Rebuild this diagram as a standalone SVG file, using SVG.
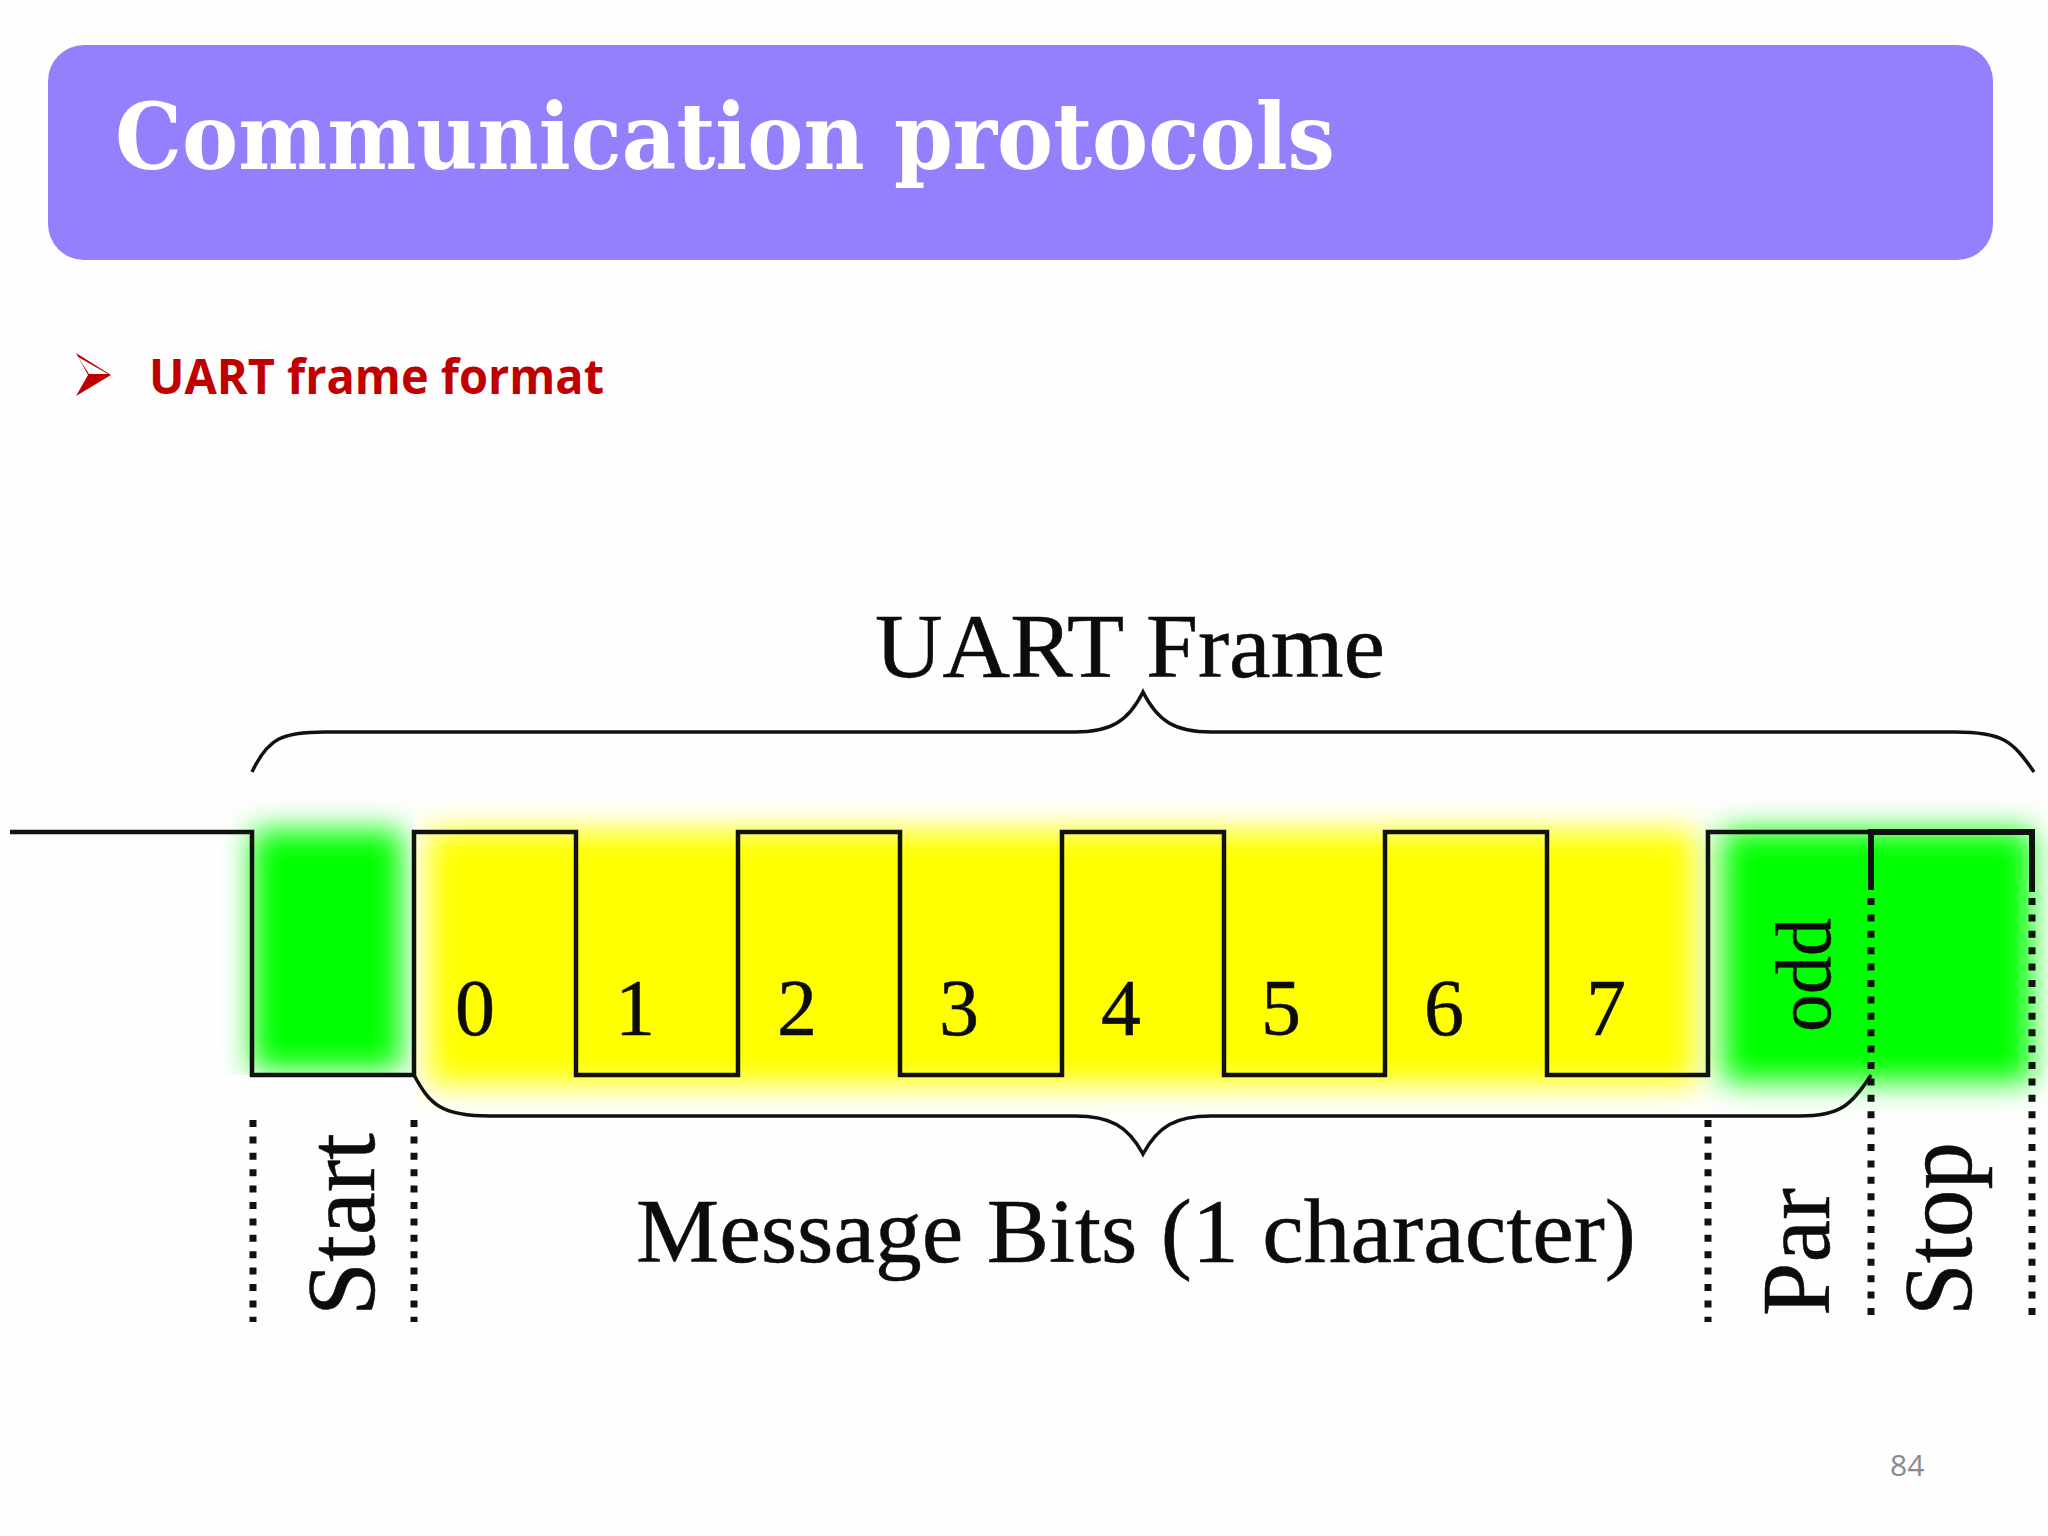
<svg xmlns="http://www.w3.org/2000/svg" width="2048" height="1536" viewBox="0 0 2048 1536">
<defs>
<filter id="glow" filterUnits="userSpaceOnUse" x="150" y="750" width="1950" height="420"><feGaussianBlur stdDeviation="15"/></filter>
<clipPath id="cs"><rect x="200" y="760" width="214" height="315"/></clipPath>
<clipPath id="cy"><rect x="416" y="760" width="1400" height="380"/></clipPath>
</defs>
<style>
.s{font-family:"Liberation Serif",serif;fill:#0c0c0c;stroke:#0c0c0c;stroke-width:.5}
.w{fill:none;stroke:#111;stroke-width:4.5;stroke-linejoin:miter}
.b{fill:none;stroke:#111;stroke-width:3.5}
.d{fill:none;stroke:#111;stroke-width:7;stroke-dasharray:7 9.4}
</style>
<rect width="2048" height="1536" fill="#fefefe"/>
<g id="banner">
<rect x="48" y="45" width="1945" height="215" rx="36" fill="#9380fd"/>
<text x="115" y="169" font-family="'DejaVu Serif','Liberation Serif',serif" font-weight="700" font-size="92" fill="#fff" textLength="1220" lengthAdjust="spacingAndGlyphs">Communication protocols</text>
</g>
<g id="subtitle">
<path d="M76 353L111 375L76 396L88 375Z" fill="#c00000"/>
<path d="M78 357L108 374L89 374Z" fill="#fff"/>
<text x="149" y="394" font-family="'Open Sans','Noto Sans',sans-serif" font-weight="700" font-size="48" fill="#c00000" textLength="455" lengthAdjust="spacingAndGlyphs">UART frame format</text>
</g>
<g id="fields">
<g clip-path="url(#cy)"><rect x="428" y="830" width="1268" height="255" fill="#ffff00" filter="url(#glow)"/></g>
<g clip-path="url(#cs)"><rect x="252" y="830" width="150" height="240" fill="#00ff00" filter="url(#glow)"/></g>
<rect x="1722" y="830" width="310" height="252" fill="#00ff00" filter="url(#glow)"/>
</g>
<g id="connectors">
<path class="w" d="M10 832H252V1075H414V832H576V1075H738V832H900V1075H1062V832H1224V1075H1385V832H1547V1075H1708V832H1871"/>
<path class="w" style="stroke-width:6" d="M1871 890V832H2032V892"/>
<path class="b" d="M252 772C268 738 282 732 325 732H1075C1110 732 1128 722 1143 692C1158 722 1176 732 1211 732H1955C2002 732 2012 740 2034 772"/>
<path class="b" d="M414 1075C430 1105 442 1116 490 1116H1075C1110 1116 1128 1126 1143 1154C1158 1126 1176 1116 1211 1116H1800C1840 1116 1852 1105 1871 1075"/>
<path class="d" d="M253 1120V1322"/>
<path class="d" d="M414 1120V1322"/>
<path class="d" d="M1708 1120V1322"/>
<path class="d" d="M1871 898V1322"/>
<path class="d" d="M2032 898V1322"/>
</g>
<g id="labels">
<text class="s" x="875" y="677" font-size="90" textLength="510" lengthAdjust="spacingAndGlyphs">UART Frame</text>
<text class="s" x="636" y="1262" font-size="90" textLength="1000" lengthAdjust="spacingAndGlyphs">Message Bits (1 character)</text>
<g font-size="80" text-anchor="middle">
<text class="s" x="475" y="1035">0</text>
<text class="s" x="635" y="1035">1</text>
<text class="s" x="797" y="1035">2</text>
<text class="s" x="959" y="1035">3</text>
<text class="s" x="1121" y="1035">4</text>
<text class="s" x="1281" y="1035">5</text>
<text class="s" x="1444" y="1035">6</text>
<text class="s" x="1606" y="1035">7</text>
</g>
<text class="s" transform="translate(1830 1032) rotate(-90)" font-size="78" textLength="114" lengthAdjust="spacingAndGlyphs">odd</text>
<text class="s" transform="translate(374 1316) rotate(-90)" font-size="98" textLength="183" lengthAdjust="spacingAndGlyphs">Start</text>
<text class="s" transform="translate(1829 1316) rotate(-90)" font-size="98" textLength="128" lengthAdjust="spacingAndGlyphs">Par</text>
<text class="s" transform="translate(1971 1316) rotate(-90)" font-size="98" textLength="174" lengthAdjust="spacingAndGlyphs">Stop</text>
</g>
<g id="page"><text x="1890" y="1476" font-family="'Open Sans',sans-serif" font-size="30" fill="#8a8a8a">84</text></g>
</svg>
